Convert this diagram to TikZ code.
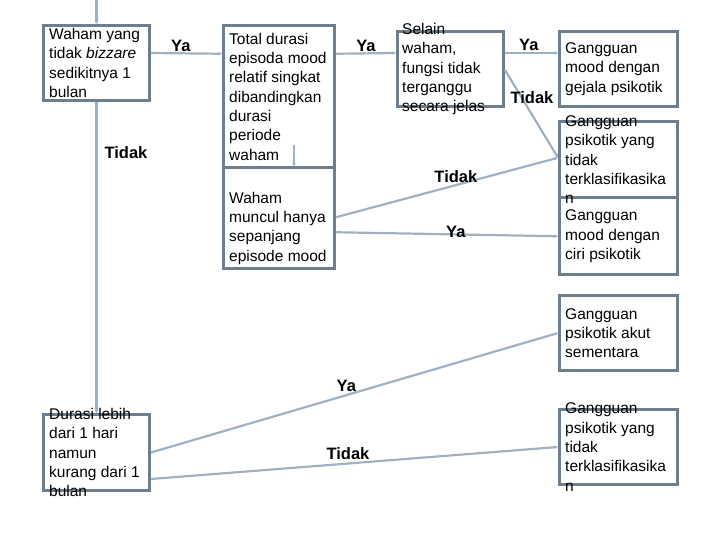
\documentclass[tikz,border=0pt]{standalone}
\usepackage{fontspec}
\setmainfont{Liberation Sans}
\usetikzlibrary{arrows.meta}
\definecolor{boxcol}{RGB}{110,126,140}
\definecolor{linecol}{RGB}{160,178,194}

\begin{document}
\begin{tikzpicture}[x=1pt, y=-1pt, >={Stealth[length=3.5pt,width=3.5pt]},
    box/.style={draw=boxcol, line width=3pt, inner sep=0pt},
    txt/.style={anchor=west, align=left, inner sep=0pt, font=\fontsize{15.5}{19.3}\selectfont},
    conn/.style={->, draw=linecol, line width=2.2pt},
    lbl/.style={font=\fontsize{16.5}{19}\selectfont\bfseries, inner sep=1pt}]
    \useasboundingbox (0,0) rectangle (720,540);
    % Boxes
    \node[box, minimum width=106, minimum height=75] (waham) at (96.5,63) {};
    \node[box, minimum width=111, minimum height=142.5] (total) at (279,96.75) {};
    \node[box, minimum width=111, minimum height=100.5] (muncul) at (279,218.25) {};
    \node[box, minimum width=106, minimum height=75] (selain) at (450.5,69) {};
    \node[box, minimum width=118, minimum height=75] (gmood) at (618.5,69) {};
    \node[box, minimum width=118, minimum height=76.5] (gpnos1) at (618.5,159.75) {};
    \node[box, minimum width=118, minimum height=76.5] (gciri) at (618.5,236.25) {};
    \node[box, minimum width=118, minimum height=75] (gakut) at (618.5,333) {};
    \node[box, minimum width=118, minimum height=75] (gpnos2) at (618.5,447) {};
    \node[box, minimum width=106, minimum height=76] (durasi) at (96.5,452.5) {};
    % Texts
    \node[txt] (waham-t) at ([xshift=7pt]waham.west) {Waham yang\\tidak \textit{bizzare}\\sedikitnya 1\\bulan};
    \node[txt] (total-t) at ([xshift=7pt]total.west) {Total durasi\\episoda mood\\relatif singkat\\dibandingkan\\durasi\\periode\\waham};
    \node[txt] (muncul-t) at ([xshift=7pt, yshift=-10pt]muncul.west) {Waham\\muncul hanya\\sepanjang\\episode mood};
    \node[txt] (selain-t) at ([xshift=6pt]selain.west) {Selain\\waham,\\fungsi tidak\\terganggu\\secara jelas};
    \node[txt] (gmood-t) at ([xshift=7pt]gmood.west) {Gangguan\\mood dengan\\gejala psikotik};
    \node[txt] (gpnos1-t) at ([xshift=7pt]gpnos1.west) {Gangguan\\psikotik yang\\tidak\\terklasifikasika\\n};
    \node[txt] (gciri-t) at ([xshift=7pt]gciri.west) {Gangguan\\mood dengan\\ciri psikotik};
    \node[txt] (gakut-t) at ([xshift=7pt]gakut.west) {Gangguan\\psikotik akut\\sementara};
    \node[txt] (gpnos2-t) at ([xshift=7pt]gpnos2.west) {Gangguan\\psikotik yang\\tidak\\terklasifikasika\\n};
    \node[txt] (durasi-t) at ([xshift=7pt]durasi.west) {Durasi lebih\\dari 1 hari\\namun\\kurang dari 1\\bulan};
    % Connectors
    \coordinate (top) at (96.5,0);
    \coordinate (tm) at (294,145);
    \draw[conn] (top) -- (waham.north);
    \draw[conn] (waham.south) -- (durasi.north) node[lbl, pos=0.164, anchor=west, xshift=6pt] {Tidak};
    \draw[conn] ([yshift=10pt]waham.east) -- ([yshift=43pt]total.west) node[lbl, pos=0.42, above] {Ya};
    \draw[conn] ([yshift=43pt]total.east) -- ([yshift=16pt]selain.west) node[lbl, midway, above] {Ya};
    \draw[conn] (tm) -- (tm |- muncul.north);
    \draw[conn] ([yshift=16pt]selain.east) -- ([yshift=16pt]gmood.west) node[lbl, pos=0.45, above] {Ya};
    \draw[conn] ([yshift=-1pt]selain.east) -- ([yshift=2pt]gpnos1.west) node[lbl, pos=0.32, xshift=10pt] {Tidak};
    \draw[conn] ([yshift=1pt]muncul.east) -- ([yshift=2pt]gpnos1.west) node[lbl, pos=0.54, yshift=9pt] {Tidak};
    \draw[conn] ([yshift=-14pt]muncul.east) -- (gciri.west) node[lbl, pos=0.54, yshift=3pt] {Ya};
    \draw[conn] (durasi.east) -- (gakut.west) node[lbl, pos=0.48, yshift=9pt] {Ya};
    \draw[conn] ([yshift=-26.5pt]durasi.east) -- (gpnos2.west) node[lbl, pos=0.484, yshift=10pt] {Tidak};
\end{tikzpicture}
\end{document}
